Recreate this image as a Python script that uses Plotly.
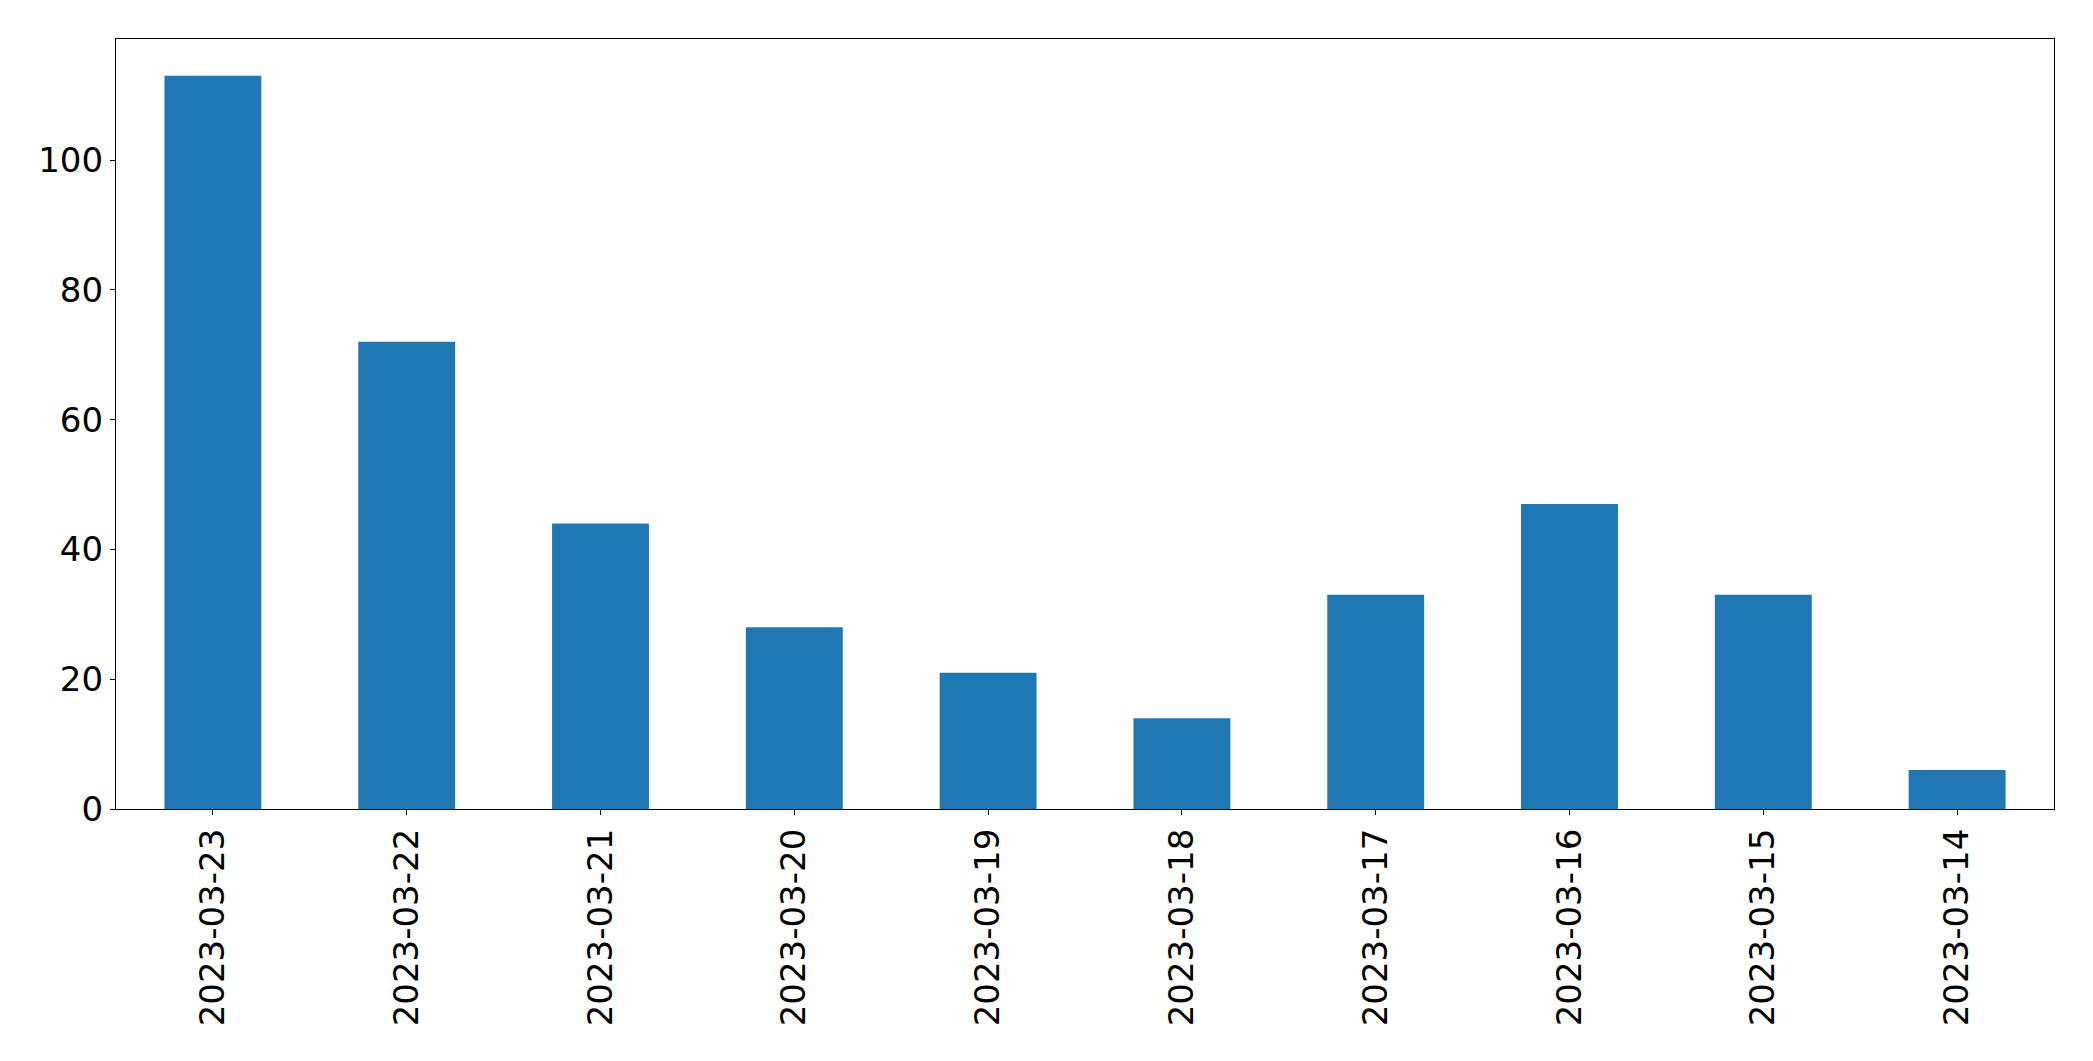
import plotly.graph_objects as go

dates = ["2023-03-23", "2023-03-22", "2023-03-21", "2023-03-20", "2023-03-19",
         "2023-03-18", "2023-03-17", "2023-03-16", "2023-03-15", "2023-03-14"]
counts = [113, 72, 44, 28, 21, 14, 33, 47, 33, 6]
y_ticks = [0, 20, 40, 60, 80, 100]

fig = go.Figure(go.Bar(x=dates, y=counts, marker_color="#1f77b4",
                       marker_line_width=0, width=0.5))

fig.update_layout(
    width=2093, height=1061,
    margin=dict(l=108, r=47, t=31, b=260),
    plot_bgcolor="white", paper_bgcolor="white",
    font=dict(family="DejaVu Sans", size=34, color="black"),
    showlegend=False, bargap=0.5,
)
fig.update_xaxes(type="category", range=[-0.5, 9.5], tickangle=-90,
                 showline=True, mirror=True, linecolor="black", linewidth=1.3,
                 ticks="outside", ticklen=5, tickwidth=1.3, tickcolor="black",
                 showgrid=False, zeroline=False)
fig.update_yaxes(range=[0, 118.65], tickvals=y_ticks,
                 showline=True, mirror=True, linecolor="black", linewidth=1.3,
                 ticks="outside", ticklen=5, tickwidth=1.3, tickcolor="black",
                 showgrid=False, zeroline=False)

fig.write_html("out.html")
